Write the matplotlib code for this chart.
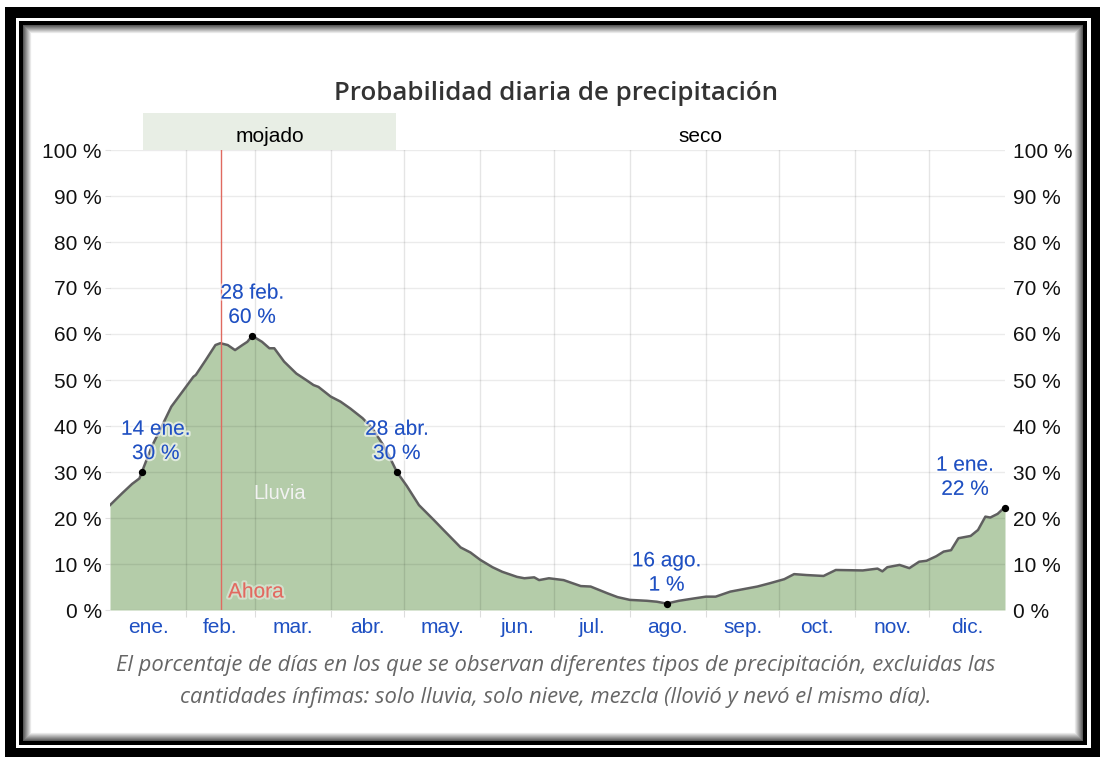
import numpy as np
import matplotlib.pyplot as plt
from matplotlib.patches import Rectangle
import matplotlib.patheffects as pe

plt.rcParams['font.family'] = ['Liberation Sans', 'DejaVu Sans']

# ---- data (day of year, probability %) ----
days = [0, 5, 9, 12, 13, 17, 21, 25, 30, 34, 35, 39, 43, 45, 48, 51, 54, 56, 58,
        62, 65, 67, 71, 76, 80, 83, 85, 90, 94, 98, 103, 107, 111, 114, 117,
        121, 126, 132, 136, 143, 147, 151, 156, 160, 166, 169, 173, 175, 179,
        185, 192, 196, 203, 207, 212, 219, 223, 227, 232, 238, 243, 247, 253,
        258, 264, 269, 275, 279, 284, 291, 296, 307, 313, 315, 317, 322, 326,
        330, 333, 337, 340, 343, 346, 351, 354, 357, 359, 362, 364, 365]
pct = [22.8, 25.4, 27.4, 28.6, 30.0, 35.5, 39.8, 44.2, 47.8, 50.7, 51.1, 54.3,
       57.6, 58.0, 57.6, 56.5, 57.6, 58.3, 59.6, 58.3, 56.9, 56.9, 54.0, 51.4,
       50.0, 48.9, 48.5, 46.4, 45.3, 43.8, 41.7, 39.5, 36.2, 33.3, 30.0, 27.0,
       22.8, 19.6, 17.4, 13.6, 12.5, 10.9, 9.3, 8.3, 7.2, 6.9, 7.1, 6.5, 6.9,
       6.5, 5.2, 5.1, 3.6, 2.8, 2.2, 2.0, 1.8, 1.4, 2.0, 2.5, 2.9, 2.9, 4.0,
       4.5, 5.1, 5.8, 6.7, 7.8, 7.6, 7.4, 8.7, 8.6, 9.0, 8.4, 9.3, 9.8, 9.1,
       10.5, 10.7, 11.7, 12.7, 13.0, 15.6, 16.1, 17.4, 20.3, 20.1, 20.9, 21.9, 22.2]

month_starts = [0, 31, 59, 90, 120, 151, 181, 212, 243, 273, 304, 334, 365]
month_labels = ['ene.', 'feb.', 'mar.', 'abr.', 'may.', 'jun.',
                'jul.', 'ago.', 'sep.', 'oct.', 'nov.', 'dic.']

ann_days = [13, 58, 117, 227, 365]
ann_pct = [30, 59.6, 30, 1.4, 22.2]
ann_text = ['14 ene.\n30 %', '28 feb.\n60 %', '28 abr.\n30 %', '16 ago.\n1 %', '1 ene.\n22 %']
ann_dx = [14, 0, 0, 0, -40]

wet_start, wet_end = 13.5, 116.6
now_day = 45.3

blue = '#1f50c2'
W, H = 1100, 757
fig = plt.figure(figsize=(11, 7.57), dpi=100)

# frame around the picture (pixel coords)
bg = fig.add_axes([0, 0, 1, 1])
bg.set_xlim(0, W)
bg.set_ylim(H, 0)
bg.axis('off')


def box(x0, y0, x1, y1, c):
    bg.add_patch(Rectangle((x0, y0), x1 - x0, y1 - y0, fc=c, ec='none'))


box(5, 7, 1100, 757, 'black')
box(16, 18, 1091, 748, 'white')
box(19, 21, 1087, 745, 'black')
for i in range(9):
    g = min(0.35 + 0.08 * i, 1)
    box(23 + i, 25 + i, 1083 - i, 741 - i, (g, g, g))
box(32, 34, 1074, 732, 'white')

ax = fig.add_axes([110 / W, (H - 610) / H, 895 / W, 460 / H])
ax.patch.set_alpha(0)
ax.set_xlim(0, 365)
ax.set_ylim(0, 100)

ax.fill_between(days, pct, color='#b4cca9', lw=0, zorder=1)
for d in month_starts[1:-1]:
    ax.axvline(d, color='black', alpha=0.1, lw=1, zorder=2)
for v in range(0, 101, 10):
    ax.axhline(v, color='black', alpha=0.08, lw=1, zorder=2)
ax.plot(days, pct, color='#5f5f5f', lw=1.8, zorder=3)

# now line
ax.axvline(now_day, color='#e06a60', lw=1, zorder=4)
ax.annotate('Ahora', (now_day, 0), xytext=(7, 18), textcoords='offset pixels',
            ha='left', va='center', color='#e06a60', fontsize=15,
            path_effects=[pe.withStroke(linewidth=3, foreground=(1, 1, 1, 0.4))])

ax.text(69.3, 25.4, 'Lluvia', ha='center', va='center', color='#f2f2f2', fontsize=14.5, zorder=4)

ax.scatter(ann_days, ann_pct, s=18, color='black', zorder=5, clip_on=False)
for d, v, t, dx in zip(ann_days, ann_pct, ann_text, ann_dx):
    ax.annotate(t, (d, v), xytext=(dx, 9), textcoords='offset pixels',
                ha='center', va='bottom', color=blue, fontsize=15, linespacing=1.35,
                zorder=6,
                path_effects=[pe.withStroke(linewidth=3, foreground=(1, 1, 1, 0.6))])

# season band
ax.add_patch(Rectangle((wet_start, 1.0), wet_end - wet_start, 37 / 460,
                       transform=ax.get_xaxis_transform(), fc='#e8eee5', ec='none',
                       clip_on=False))
ax.text((wet_start + wet_end) / 2, 1.03, 'mojado', transform=ax.get_xaxis_transform(),
        ha='center', va='center', fontsize=15, color='black')
ax.text((wet_end + 365) / 2, 1.03, 'seco', transform=ax.get_xaxis_transform(),
        ha='center', va='center', fontsize=15, color='black')

for s in ax.spines.values():
    s.set_visible(False)

ax.set_yticks(range(0, 101, 10))
ax.set_yticklabels([f'{v} %' for v in range(0, 101, 10)])
ax.tick_params(axis='y', length=3.6, color='#e0e0e0', pad=2.2, labelsize=15,
               labelcolor='#111111', labelright=True, right=False)
ax.set_xticks(month_starts[1:-1])
ax.set_xticklabels([])
ax.tick_params(axis='x', which='major', length=5, color='#dddddd')
mids = [(a + b) / 2 for a, b in zip(month_starts[:-1], month_starts[1:])]
ax.set_xticks(mids, minor=True)
ax.set_xticklabels(month_labels, minor=True)
ax.tick_params(axis='x', which='minor', length=0, pad=6, labelsize=15, labelcolor=blue)

fig.text(556 / W, 1 - 94 / H, 'Probabilidad diaria de precipitación', ha='center', va='center',
         fontsize=18.6, fontfamily='Open Sans', fontweight='semibold', color='#333333')
cap1 = 'El porcentaje de días en los que se observan diferentes tipos de precipitación, excluidas las'
cap2 = 'cantidades ínfimas: solo lluvia, solo nieve, mezcla (llovió y nevó el mismo día).'
for i, c in enumerate([cap1, cap2]):
    fig.text(556 / W, 1 - (666 + 32 * i) / H, c, ha='center', va='center', fontsize=15.8,
             fontfamily='Open Sans', fontstyle='italic', color='#666666')

fig.savefig('out.png', dpi=100)
